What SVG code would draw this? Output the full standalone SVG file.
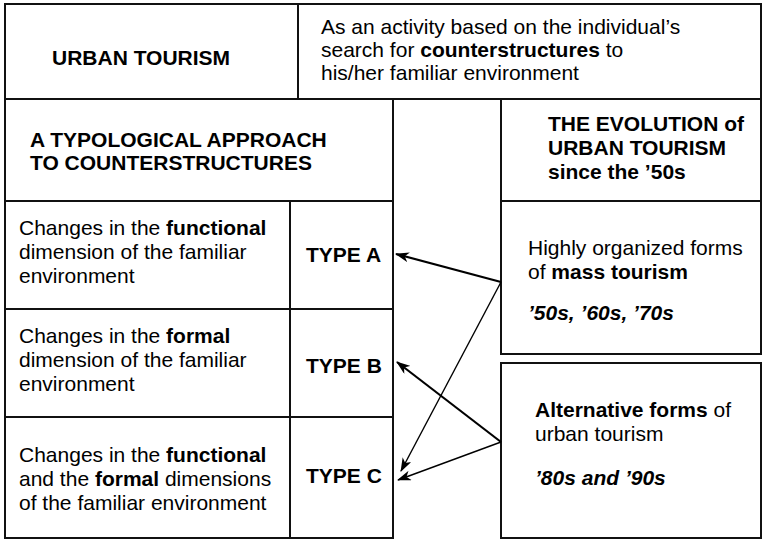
<svg xmlns="http://www.w3.org/2000/svg" width="763" height="541" viewBox="0 0 763 541">
<style>
  .box { fill: #ffffff; stroke: #111111; stroke-width: 2; }
  .t { font-family: "Liberation Sans", Arial, Helvetica, sans-serif; font-size: 21px; fill: #000000; }
  .b { font-weight: bold; }
  .bi { font-weight: bold; font-style: italic; }
  .thick { stroke: #000000; stroke-width: 2.2; fill: none; }
  .thin { stroke: #000000; stroke-width: 1.4; fill: none; }
</style>
<defs>
  <marker id="arrow" viewBox="0 0 14 10" refX="13" refY="5" markerWidth="14" markerHeight="10" markerUnits="userSpaceOnUse" orient="auto">
    <path d="M0,0 L14,5 L0,10 L4,5 Z" fill="#000000"/>
  </marker>
</defs>
<rect x="0" y="0" width="763" height="541" fill="#ffffff"/>

<g id="urban-tourism">
  <rect class="box" x="5" y="4" width="293" height="95"/>
  <text class="t b" x="52" y="65">URBAN TOURISM</text>
</g>
<g id="definition">
  <rect class="box" x="298" y="4" width="463" height="95"/>
  <text class="t" x="321" y="34">As an activity based on the individual’s</text>
  <text class="t" x="321" y="57">search for <tspan class="b">counterstructures</tspan> to</text>
  <text class="t" x="321" y="80">his/her familiar environment</text>
</g>
<g id="typology-heading">
  <rect class="box" x="5" y="99" width="388" height="102"/>
  <text class="t b" x="30" y="147">A TYPOLOGICAL APPROACH</text>
  <text class="t b" x="30" y="170">TO COUNTERSTRUCTURES</text>
</g>
<g id="desc-a">
  <rect class="box" x="5" y="201" width="285" height="108"/>
  <text class="t" x="19" y="235">Changes in the <tspan class="b">functional</tspan></text>
  <text class="t" x="19" y="259">dimension of the familiar</text>
  <text class="t" x="19" y="283">environment</text>
</g>
<g id="type-a">
  <rect class="box" x="290" y="201" width="103" height="108"/>
  <text class="t b" x="306" y="262">TYPE A</text>
</g>
<g id="desc-b">
  <rect class="box" x="5" y="309" width="285" height="108"/>
  <text class="t" x="19" y="343">Changes in the <tspan class="b">formal</tspan></text>
  <text class="t" x="19" y="367">dimension of the familiar</text>
  <text class="t" x="19" y="391">environment</text>
</g>
<g id="type-b">
  <rect class="box" x="290" y="309" width="103" height="108"/>
  <text class="t b" x="306" y="373">TYPE B</text>
</g>
<g id="desc-c">
  <rect class="box" x="5" y="417" width="285" height="121"/>
  <text class="t" x="19" y="462">Changes in the <tspan class="b">functional</tspan></text>
  <text class="t" x="19" y="486">and the <tspan class="b">formal</tspan> dimensions</text>
  <text class="t" x="19" y="510">of the familiar environment</text>
</g>
<g id="type-c">
  <rect class="box" x="290" y="417" width="103" height="121"/>
  <text class="t b" x="306" y="483">TYPE C</text>
</g>
<g id="evolution-heading">
  <rect class="box" x="501" y="99" width="260" height="102"/>
  <text class="t b" x="548" y="131">THE EVOLUTION of</text>
  <text class="t b" x="548" y="155">URBAN TOURISM</text>
  <text class="t b" x="548" y="179">since the ’50s</text>
</g>
<g id="mass-tourism">
  <rect class="box" x="501" y="201" width="260" height="153"/>
  <text class="t" x="528" y="255">Highly organized forms</text>
  <text class="t" x="528" y="279">of <tspan class="b">mass tourism</tspan></text>
  <text class="t bi" x="528" y="320">’50s, ’60s, ’70s</text>
</g>
<g id="alternative-tourism">
  <rect class="box" x="501" y="363" width="260" height="175"/>
  <text class="t" x="535" y="417"><tspan class="b">Alternative forms</tspan> of</text>
  <text class="t" x="535" y="441">urban tourism</text>
  <text class="t bi" x="535" y="485">’80s and ’90s</text>
</g>

<g id="connectors">
  <line class="thick" x1="501" y1="282" x2="396" y2="254" marker-end="url(#arrow)"/>
  <line class="thin" x1="501" y1="282" x2="401" y2="471" marker-end="url(#arrow)"/>
  <line class="thick" x1="501" y1="442" x2="397" y2="362" marker-end="url(#arrow)"/>
  <line class="thin" x1="501" y1="442" x2="398" y2="480" marker-end="url(#arrow)"/>
</g>
</svg>
